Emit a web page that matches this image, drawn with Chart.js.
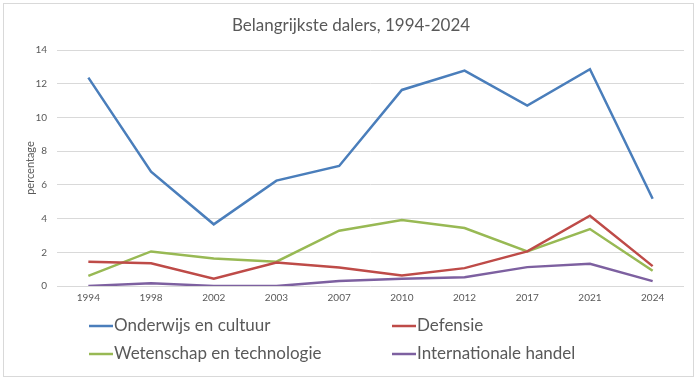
<!DOCTYPE html>
<html>
<head>
<meta charset="utf-8">
<script src="https://cdn.jsdelivr.net/npm/chart.js@4/dist/chart.umd.min.js"></script>
<style>
html,body{margin:0;padding:0;background:#fff;}
#wrap{position:relative;width:700px;height:383px;}
</style>
</head>
<body>
<div id="wrap"><canvas id="c" width="700" height="383"></canvas></div>
<script>
const years = ['1994','1998','2002','2003','2007','2010','2012','2017','2021','2024'];
const onderwijs = [12.36, 6.78, 3.66, 6.25, 7.12, 11.63, 12.78, 10.70, 12.86, 5.18];
const defensie = [1.44, 1.35, 0.43, 1.39, 1.10, 0.62, 1.06, 2.05, 4.17, 1.18];
const wetenschap = [0.60, 2.05, 1.63, 1.44, 3.28, 3.92, 3.44, 2.05, 3.38, 0.90];
const handel = [0.00, 0.17, 0.00, 0.00, 0.29, 0.43, 0.52, 1.12, 1.32, 0.29];
const yTicks = [0, 2, 4, 6, 8, 10, 12, 14];

const FONT = 'Lato, "Open Sans", sans-serif';

const frame = {
  id: 'frame',
  beforeDraw(chart) {
    const c = chart.ctx;
    c.save();
    c.fillStyle = '#fff';
    c.fillRect(0, 0, chart.width, chart.height);
    c.strokeStyle = '#d9d9d9';
    c.lineWidth = 1;
    c.strokeRect(3.5, 3.5, 690, 373);
    c.restore();
  }
};

const gridLegend = {
  id: 'gridLegend',
  afterDraw(chart) {
    const c = chart.ctx;
    const pos = [[89, 326], [392, 326], [89, 354], [392, 354]];
    c.save();
    c.font = '17px ' + FONT;
    c.textBaseline = 'middle';
    c.textAlign = 'left';
    chart.data.datasets.forEach((ds, i) => {
      const [x, y] = pos[i];
      c.strokeStyle = ds.borderColor;
      c.lineWidth = 2.5;
      c.beginPath();
      c.moveTo(x, y);
      c.lineTo(x + 24, y);
      c.stroke();
      c.fillStyle = '#595959';
      c.fillText(ds.label, x + 25, y);
    });
    c.restore();
  }
};

const mk = (label, data, color) => ({
  label, data, borderColor: color, backgroundColor: color,
  borderWidth: 2.5, pointRadius: 0, tension: 0, fill: false
});

new Chart(document.getElementById('c'), {
  type: 'line',
  data: {
    labels: years,
    datasets: [
      mk('Onderwijs en cultuur', onderwijs, '#4A7EBB'),
      mk('Defensie', defensie, '#BE4B48'),
      mk('Wetenschap en technologie', wetenschap, '#98B954'),
      mk('Internationale handel', handel, '#7D60A0')
    ]
  },
  options: {
    responsive: false,
    animation: false,
    layout: { padding: { left: 18, right: 16, top: 6, bottom: 77 } },
    plugins: {
      legend: { display: false },
      tooltip: { enabled: false },
      title: {
        display: true,
        text: 'Belangrijkste dalers, 1994-2024',
        color: '#595959',
        font: { family: FONT, size: 17, weight: 'normal' },
        padding: { top: 9, bottom: 14.6 }
      }
    },
    scales: {
      x: {
        offset: true,
        grid: { display: false, drawTicks: false },
        border: { display: false },
        ticks: { color: '#595959', font: { family: FONT, size: 10 }, padding: 6, maxRotation: 0, autoSkip: false },
        afterFit(s) { s.height = 20; }
      },
      y: {
        min: 0, max: 14,
        afterBuildTicks(s) { s.ticks = yTicks.map(v => ({ value: v })); },
        grid: { color: '#d9d9d9', lineWidth: 1, drawTicks: false },
        border: { display: false },
        ticks: { color: '#595959', font: { family: FONT, size: 10 }, padding: 10 },
        title: {
          display: true, text: 'percentage', color: '#595959',
          font: { family: FONT, size: 11 }, padding: { top: 6, bottom: 0 }
        },
        afterFit(s) { s.width = 39; }
      }
    }
  },
  plugins: [frame, gridLegend]
});
</script>
</body>
</html>
